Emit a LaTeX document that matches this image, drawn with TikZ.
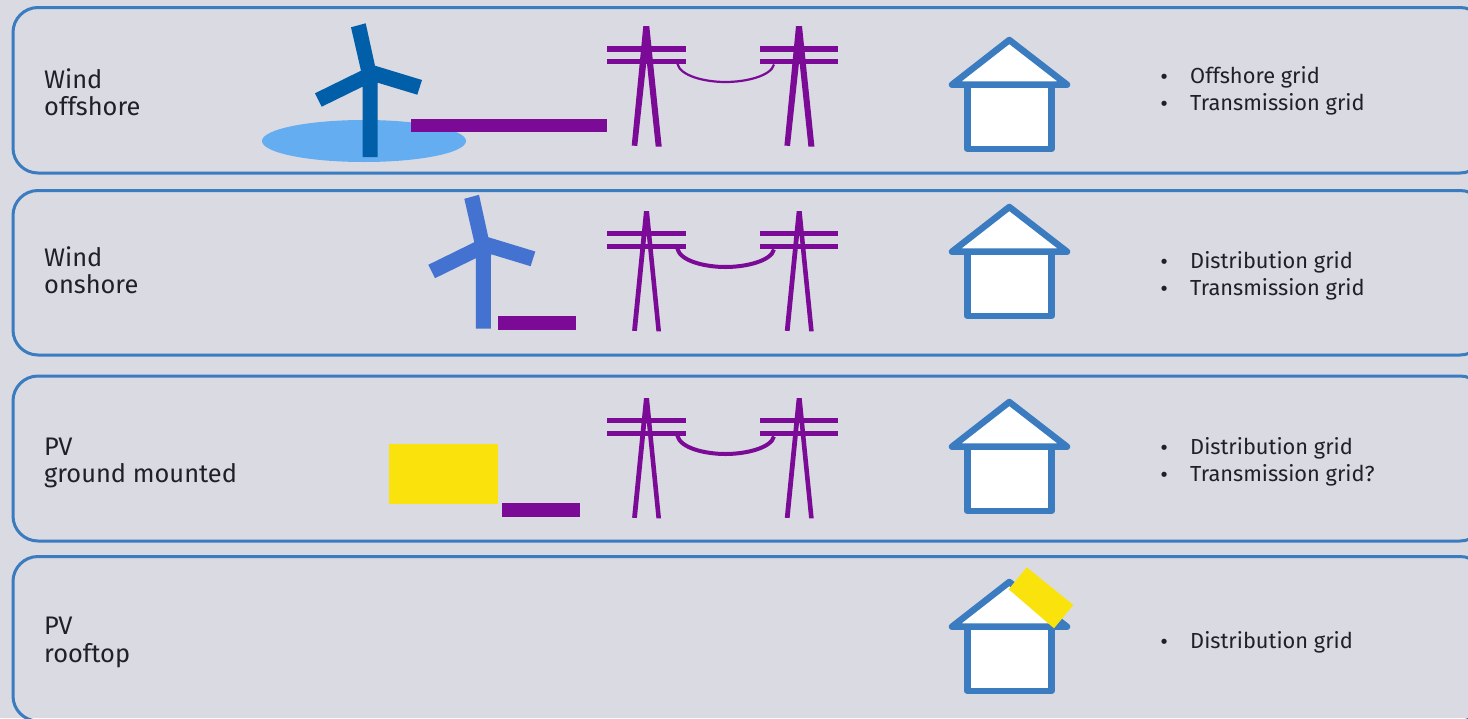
\documentclass[tikz,border=0pt]{standalone}
\usepackage{fontspec}
\setmainfont{Fira Sans}
\newfontfamily\bulfont{DejaVu Sans}
\definecolor{bgc}{HTML}{D9DAE2}
\definecolor{linec}{HTML}{3A7CBF}
\definecolor{purp}{HTML}{7B0A96}
\definecolor{yell}{HTML}{FAE30C}
\definecolor{seac}{HTML}{64ADF0}
\definecolor{offc}{HTML}{005FA8}
\definecolor{onc}{HTML}{4472D0}
\definecolor{txt}{HTML}{1E2126}
\newcommand{\blt}{\makebox[31.3pt][l]{\bulfont\fontsize{18}{18}\selectfont •}}
\tikzset{
  x=1pt,y=-1pt,
  panel/.style={draw=linec,line width=3pt,rounded corners=25pt},
  house/.style={draw=linec,fill=white,line width=6.5pt,line join=round,line cap=round},
  bar/.style={fill=purp},
  cable/.style={draw=purp},
  lab/.style={anchor=west,align=left,text=txt,font=\fontsize{25.4}{27.5}\selectfont,inner sep=0pt},
  lst/.style={anchor=west,align=left,text=txt,font=\fontsize{21.8}{27.2}\selectfont,inner sep=0pt}
}
\newcommand{\pylonthick}[1]{%
  \begin{scope}[shift={(#1,0)}]
    \fill[purp] (643.3,26)--(649.3,26)--(661.7,146.5)--(655.7,146.5)--(646.6,60)--(637.3,146)--(631.7,145.5)--cycle;
    \fill[purp] (607.3,46) rectangle (685.7,52);
    \fill[purp] (607.3,58.7) rectangle (685.7,64.3);
  \end{scope}}
\newcommand{\pylonthin}[1]{%
  \begin{scope}[shift={(#1,0)}]
    \fill[purp] (644,26)--(649,26)--(661,146.3)--(656.4,146.3)--(646.6,48)--(636.9,146)--(632.1,145.7)--cycle;
    \fill[purp] (607.3,46.4) rectangle (685.7,51.2);
    \fill[purp] (607.3,58.9) rectangle (685.7,63.7);
  \end{scope}}
\newcommand{\cableline}[2]{%
  \draw[cable,line width=#2,shift={(0,#1)}] (677.3,63.5) .. controls (680,76) and (705,82) .. (725.5,82) .. controls (746,82) and (771,76) .. (774,64.5);}
\newcommand{\housepic}[1]{%
  \begin{scope}[shift={(0,#1)}]
    \draw[house] (967.5,626.7) rectangle (1051.5,691);
    \draw[house] (952,626.7)--(1009.3,582)--(1067,626.7)--cycle;
  \end{scope}}
\newcommand{\turbine}[3]{%
  \fill[#3,shift={(#1,#2)}] (351,27.3)--(365.7,23.3)--(375,65.7)--(422,80)--(417.3,94.7)--(377.7,82.7)--(377.5,157)--(362.5,157)--(362.5,86.7)--(321.7,106.7)--(315,93.3)--(361,70.7)--cycle;}
\begin{document}
\begin{tikzpicture}
\useasboundingbox (0,0) rectangle (1468,718);
\clip (0,0) rectangle (1468,718);
\fill[bgc] (0,0) rectangle (1468,718);
\draw[panel] (13,7.5) rectangle (1485,173);
\draw[panel] (13,190.5) rectangle (1485,355);
\draw[panel] (13,376) rectangle (1485,541);
\draw[panel] (13,556.5) rectangle (1485,721);
% row 1
\fill[seac] (364,141) ellipse [x radius=102,y radius=21];
\turbine{0}{0}{offc}
\fill[bar] (411,119) rectangle (606.5,131.6);
\pylonthick{0}\pylonthick{152.7}
\cableline{0}{2.2pt}
\housepic{-542}
\node[lab] (l1) at (44,92) {Wind\\offshore};
\node[lst] (g1) at (1158.7,90.5) {\blt Offshore grid\\\blt Transmission grid};
% row 2
\turbine{113.3}{171.5}{onc}
\fill[bar] (497.7,316.3) rectangle (576,330.3);
\begin{scope}[shift={(0,185)}]
  \pylonthin{0}\pylonthin{152.7}
\end{scope}
\cableline{185}{4pt}
\housepic{-375}
\node[lab] (l2) at (44,270) {Wind\\onshore};
\node[lst] (g2) at (1158.7,276) {\blt Distribution grid\\\blt Transmission grid};
% row 3
\fill[yell] (388.5,444) rectangle (497.7,503.7);
\fill[bar] (501.7,503.3) rectangle (580.3,517.3);
\begin{scope}[shift={(0,372)}]
  \pylonthin{0}\pylonthin{152.7}
\end{scope}
\cableline{372}{4pt}
\housepic{-180}
\node[lab] (l3) at (44,463) {PV\\ground mounted};
\node[lst] (g3) at (1158.7,462) {\blt Distribution grid\\\blt Transmission grid?};
% row 4
\housepic{0}
\fill[yell] (1026.7,567.3)--(1073.3,605)--(1054,628.3)--(1008.7,589.3)--cycle;
\node[lab] (l4) at (44,642.5) {PV\\rooftop};
\node[lst] (g4) at (1158.7,642) {\blt Distribution grid};
\end{tikzpicture}
\end{document}
